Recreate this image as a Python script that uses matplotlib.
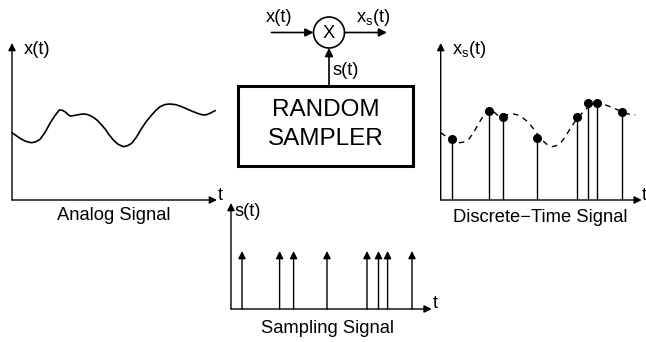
import matplotlib

matplotlib.use("Agg")

import matplotlib.pyplot as plt
from matplotlib.patches import Circle, Rectangle

plt.rcParams["font.family"] = ["Liberation Sans", "DejaVu Sans"]
plt.rcParams["mathtext.fontset"] = "custom"
plt.rcParams["mathtext.rm"] = "Liberation Sans"
plt.rcParams["mathtext.it"] = "Liberation Sans"

# analog signal x(t) (time and amplitude in panel units)
signal_t = [0, 4, 8, 12, 16, 19.7, 24, 28, 33, 38, 43, 47.3, 50, 53, 56, 58, 61,
            64.7, 69, 73, 77, 81.3, 85.5, 89.7, 93.5, 97.3, 101.3, 106, 111.3,
            115.5, 119.7, 124.5, 129.7, 134.5, 139.7, 144, 148, 153, 158, 164,
            169.7, 175.5, 181.3, 186.5, 191.3, 194.5, 198, 203]
signal_x = [67.3, 64.5, 61.7, 59.5, 58, 57.3, 58.3, 60.7, 67.5, 76.7, 84.5, 90,
            89.8, 88.3, 85.5, 84, 84.3, 85, 85.8, 86, 85, 82.7, 79.5, 75, 70.5,
            65, 60, 55.8, 53.3, 54.3, 56.7, 63, 71.7, 78.8, 85, 89.8, 93.3, 95.5,
            96, 95.3, 93.3, 90.8, 88.3, 86.3, 85, 85.3, 86.7, 89.3]

# random sampling instants and the sampled values
sample_t = [11, 48.6, 62.6, 96, 136, 147.5, 156.6, 181]
sample_x = [61, 89, 83.3, 62.3, 82.7, 96.7, 96.7, 88.3]
impulse_height = 58

titles = ["Analog Signal", "Discrete\u2212Time Signal", "Sampling Signal"]

W, H = 646, 342
FS = 13.2
fig = plt.figure(figsize=(W / 100, H / 100), dpi=100)


def panel(x0, y0, length, top, t_gap=1):
    """Axes whose data units are pixels, origin at (x0, y0) in image pixels."""
    ax = fig.add_axes([x0 / W, (H - y0) / H, length / W, top / H])
    ax.set_xlim(0, length)
    ax.set_ylim(0, top)
    ax.axis("off")
    arrow = dict(arrowstyle="-|>", color="black", lw=1.0, mutation_scale=11,
                 shrinkA=0, shrinkB=0)
    ax.annotate("", xy=(length, 0), xytext=(0, 0), arrowprops=arrow, annotation_clip=False)
    ax.annotate("", xy=(0, top), xytext=(0, 0), arrowprops=arrow, annotation_clip=False)
    ax.text(length + t_gap, 5, "t", fontsize=FS, ha="left", va="center")
    return ax


# analog signal
ax = panel(12, 200, 205, 157)
ax.plot(signal_t, signal_x, color="black", lw=1.2, solid_joinstyle="round", clip_on=False)
ax.text(12, 150, "x(t)", fontsize=FS, ha="left", va="center")
ax.text(102, -20.5, titles[0], fontsize=FS, ha="center", va="baseline")

# discrete-time signal
ax = panel(440.7, 200, 201, 157, t_gap=0)
ax.plot(signal_t[:-2], signal_x[:-2], color="black", lw=1.0, dashes=(4, 3.5), clip_on=False)
ax.vlines(sample_t, 0, sample_x, color="black", lw=1.0)
ax.plot(sample_t, sample_x, "o", color="black", ms=5.5, clip_on=False)
ax.text(11, 150, r"x$_\mathrm{s}$(t)", fontsize=FS, ha="left", va="center")
ax.text(100, -22, titles[1], fontsize=FS, ha="center", va="baseline")

# sampling signal
ax = panel(231, 309, 200.7, 106)
for t in sample_t:
    ax.annotate("", xy=(t, impulse_height), xytext=(t, 0),
                arrowprops=dict(arrowstyle="-|>", color="black", lw=1.0,
                                mutation_scale=11, shrinkA=0, shrinkB=0))
ax.text(4, 97, "s(t)", fontsize=FS, ha="left", va="center")
ax.text(96.5, -24, titles[2], fontsize=FS, ha="center", va="baseline")

# multiplier and random sampler block, drawn in image pixel coordinates
top = fig.add_axes([0, 0, 1, 1])
top.set_xlim(0, W)
top.set_ylim(H, 0)
top.axis("off")
top.patch.set_alpha(0)

cx, cy, r = 329, 32.5, 15.5
top.add_patch(Circle((cx, cy), r, fill=False, lw=1.2, color="black"))
top.text(cx, cy + 0.5, "X", fontsize=FS, ha="center", va="center")
arrow = dict(arrowstyle="-|>", color="black", lw=1.2, mutation_scale=12, shrinkA=0, shrinkB=0)
top.annotate("", xy=(cx - r, cy), xytext=(271.5, cy), arrowprops=arrow)
top.annotate("", xy=(387, cy), xytext=(cx + r, cy), arrowprops=arrow)
top.annotate("", xy=(cx, cy + r), xytext=(cx, 86), arrowprops=arrow)
top.text(279, 18, "x(t)", fontsize=FS, ha="center", va="center")
top.text(373, 18, r"x$_\mathrm{s}$(t)", fontsize=FS, ha="center", va="center")
top.text(333, 70.5, "s(t)", fontsize=FS, ha="left", va="center")

top.add_patch(Rectangle((238, 86), 175, 80, fill=False, lw=2.2, color="black"))
top.text(325.5, 110, "RANDOM", fontsize=17.5, ha="center", va="center")
top.text(325.5, 139, "SAMPLER", fontsize=17.5, ha="center", va="center")

fig.savefig("out.png", dpi=100)
